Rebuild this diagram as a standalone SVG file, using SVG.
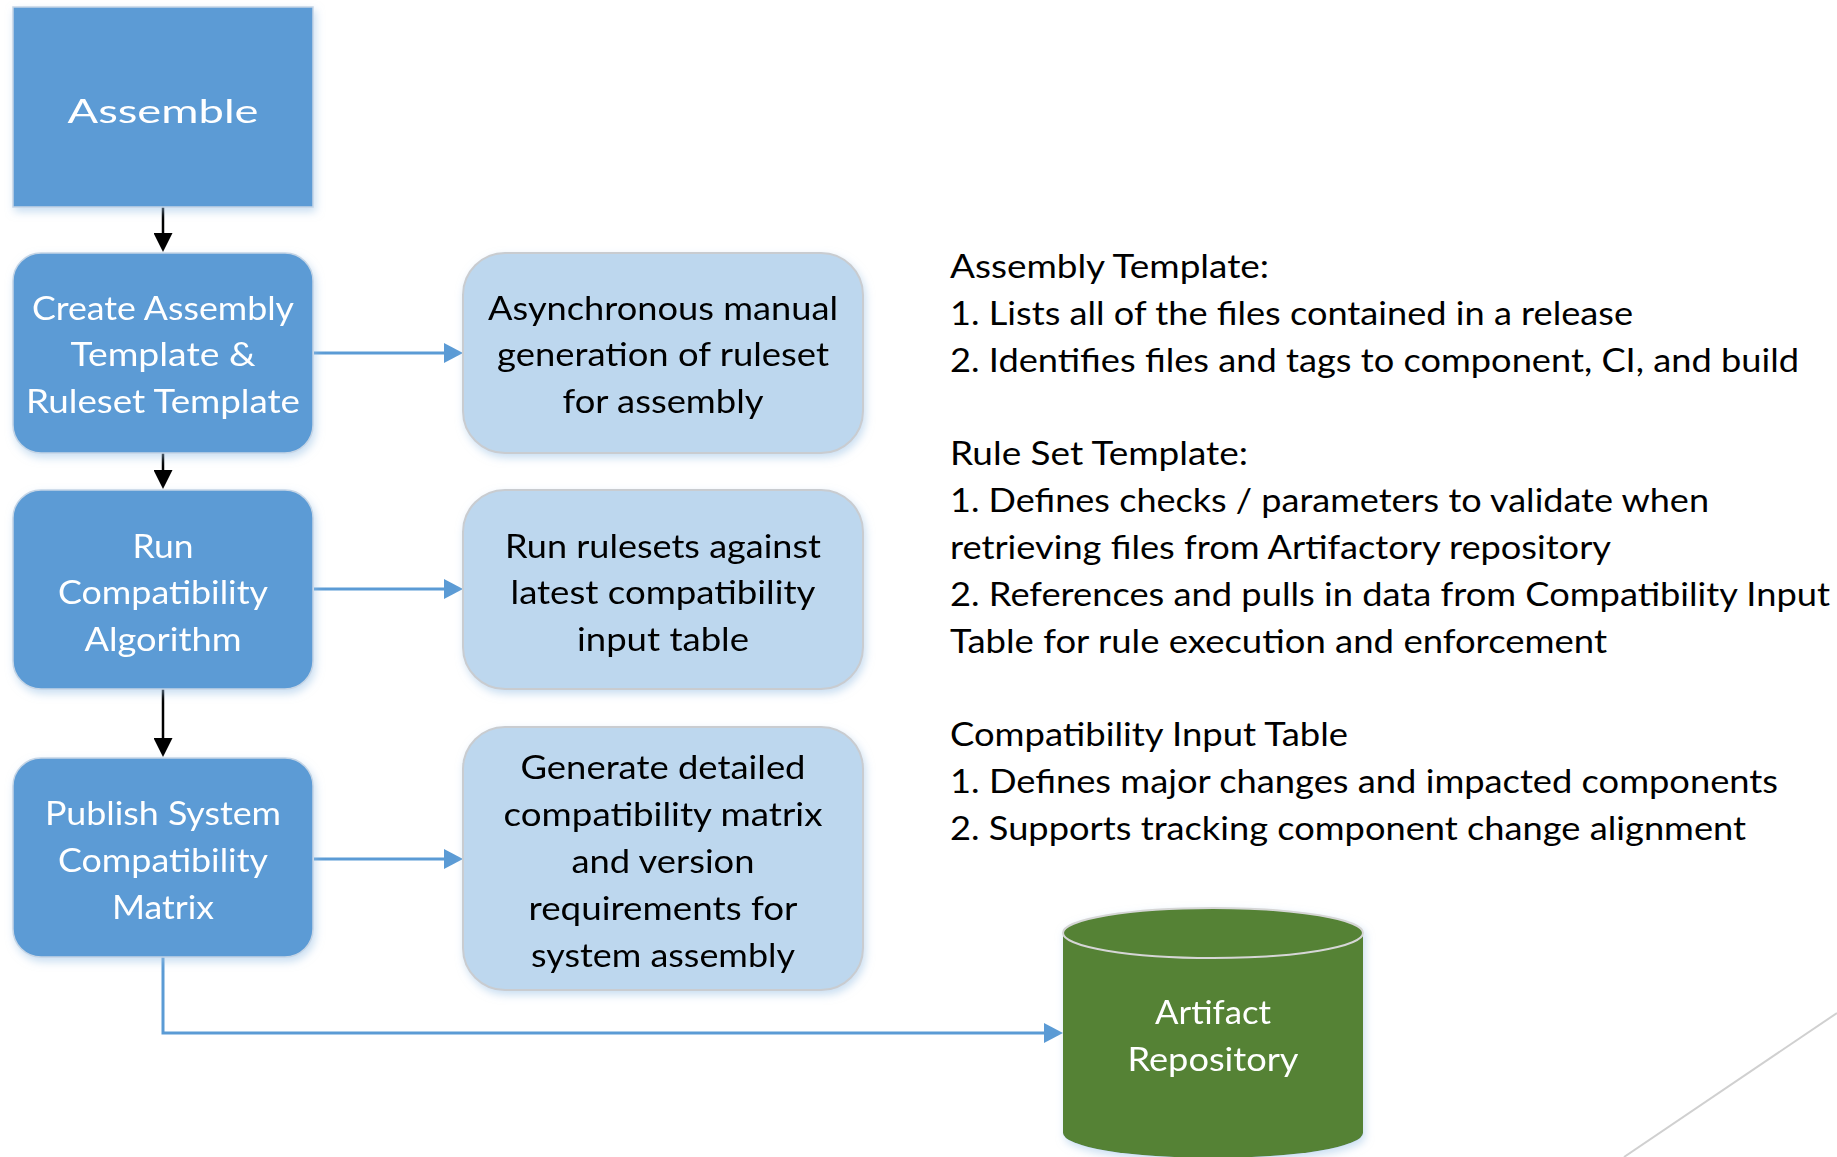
<svg xmlns="http://www.w3.org/2000/svg" width="1837" height="1157" viewBox="0 0 1837 1157">
  <style>
    .step { fill: #5b9bd5; stroke: #c5d5e6; stroke-width: 1.5; }
    .note { fill: #bdd7ee; stroke: #c9ccd0; stroke-width: 2; }
    .t { font-family: Lato, "Liberation Sans", sans-serif; font-size: 33px; text-anchor: middle; }
    .w { fill: #ffffff; }
    .k { fill: #000000; }
    .side { font-family: Lato, "Liberation Sans", sans-serif; font-size: 33px; fill: #000000; }
    .flow { fill: none; stroke: #000000; stroke-width: 2.5; }
    .link { fill: none; stroke: #5b9bd5; stroke-width: 3; }
  </style>
  <defs>
    <filter id="glow" x="-10%" y="-10%" width="120%" height="125%">
      <feGaussianBlur in="SourceAlpha" stdDeviation="4"/>
      <feOffset dx="2" dy="4" result="b"/>
      <feFlood flood-color="#9dc3e6" flood-opacity="0.55"/>
      <feComposite in2="b" operator="in"/>
      <feMerge><feMergeNode/><feMergeNode in="SourceGraphic"/></feMerge>
    </filter>
    <marker id="headK" markerUnits="userSpaceOnUse" markerWidth="19" markerHeight="19" viewBox="0 0 19 19" refX="4" refY="9.5" orient="auto">
      <path d="M0,0 L19,9.5 L0,19 Z" fill="#000000"/>
    </marker>
    <marker id="headB" markerUnits="userSpaceOnUse" markerWidth="19" markerHeight="20" viewBox="0 0 19 20" refX="4" refY="10" orient="auto">
      <path d="M0,0 L19,10 L0,20 Z" fill="#5b9bd5"/>
    </marker>
  </defs>

  <rect width="1837" height="1157" fill="#ffffff"/>

  <!-- corner accent line -->
  <line x1="1624" y1="1157" x2="1837" y2="1013" stroke="#d0d0d0" stroke-width="2"/>

  <!-- connectors -->
  <g id="connectors">
    <path class="flow" d="M163,207 V237" marker-end="url(#headK)"/>
    <path class="flow" d="M163,453 V474" marker-end="url(#headK)"/>
    <path class="flow" d="M163,689 V742" marker-end="url(#headK)"/>
    <path class="link" d="M314,353 H448" marker-end="url(#headB)"/>
    <path class="link" d="M314,589 H448" marker-end="url(#headB)"/>
    <path class="link" d="M314,859 H448" marker-end="url(#headB)"/>
    <path class="link" d="M163,957 V1033 H1048" marker-end="url(#headB)"/>
  </g>

  <!-- process steps -->
  <g id="assemble" filter="url(#glow)">
    <rect class="step" x="13" y="7" width="300" height="200"/>
    <text class="t w" x="163" y="123" font-size="44" textLength="191" lengthAdjust="spacingAndGlyphs">Assemble</text>
  </g>

  <g id="create-templates" filter="url(#glow)">
    <rect class="step" x="13" y="253" width="300" height="200" rx="28"/>
    <text class="t w" x="163" y="320" textLength="262" lengthAdjust="spacingAndGlyphs">Create Assembly</text>
    <text class="t w" x="163" y="366" textLength="185" lengthAdjust="spacingAndGlyphs">Template &amp;</text>
    <text class="t w" x="163" y="413" textLength="274" lengthAdjust="spacingAndGlyphs">Ruleset Template</text>
  </g>

  <g id="run-algorithm" filter="url(#glow)">
    <rect class="step" x="13" y="490" width="300" height="199" rx="28"/>
    <text class="t w" x="163" y="558" textLength="61" lengthAdjust="spacingAndGlyphs">Run</text>
    <text class="t w" x="163" y="604" textLength="210" lengthAdjust="spacingAndGlyphs">Compatibility</text>
    <text class="t w" x="163" y="651" textLength="157" lengthAdjust="spacingAndGlyphs">Algorithm</text>
  </g>

  <g id="publish-matrix" filter="url(#glow)">
    <rect class="step" x="13" y="758" width="300" height="199" rx="28"/>
    <text class="t w" x="163" y="825" textLength="236" lengthAdjust="spacingAndGlyphs">Publish System</text>
    <text class="t w" x="163" y="872" textLength="210" lengthAdjust="spacingAndGlyphs">Compatibility</text>
    <text class="t w" x="163" y="919" textLength="102" lengthAdjust="spacingAndGlyphs">Matrix</text>
  </g>

  <!-- side notes -->
  <g id="note-ruleset" filter="url(#glow)">
    <rect class="note" x="463" y="253" width="400" height="200" rx="42"/>
    <text class="t k" x="663" y="320" textLength="350" lengthAdjust="spacingAndGlyphs">Asynchronous manual</text>
    <text class="t k" x="663" y="366" textLength="332" lengthAdjust="spacingAndGlyphs">generation of ruleset</text>
    <text class="t k" x="663" y="413" textLength="201" lengthAdjust="spacingAndGlyphs">for assembly</text>
  </g>

  <g id="note-run" filter="url(#glow)">
    <rect class="note" x="463" y="490" width="400" height="199" rx="42"/>
    <text class="t k" x="663" y="558" textLength="316" lengthAdjust="spacingAndGlyphs">Run rulesets against</text>
    <text class="t k" x="663" y="604" textLength="305" lengthAdjust="spacingAndGlyphs">latest compatibility</text>
    <text class="t k" x="663" y="651" textLength="172" lengthAdjust="spacingAndGlyphs">input table</text>
  </g>

  <g id="note-matrix" filter="url(#glow)">
    <rect class="note" x="463" y="727" width="400" height="263" rx="42"/>
    <text class="t k" x="663" y="779" textLength="285" lengthAdjust="spacingAndGlyphs">Generate detailed</text>
    <text class="t k" x="663" y="826" textLength="319" lengthAdjust="spacingAndGlyphs">compatibility matrix</text>
    <text class="t k" x="663" y="873" textLength="183" lengthAdjust="spacingAndGlyphs">and version</text>
    <text class="t k" x="663" y="920" textLength="269" lengthAdjust="spacingAndGlyphs">requirements for</text>
    <text class="t k" x="663" y="967" textLength="264" lengthAdjust="spacingAndGlyphs">system assembly</text>
  </g>

  <!-- repository -->
  <g id="artifact-repository" filter="url(#glow)">
    <path d="M1063,933 V1133 A150,25 0 0 0 1363,1133 V933 A150,25 0 0 0 1063,933 Z" fill="#548235"/>
    <ellipse cx="1213" cy="933" rx="150" ry="25" fill="none" stroke="#d6d6d6" stroke-width="2"/>
    <text class="t w" x="1213" y="1024" textLength="116" lengthAdjust="spacingAndGlyphs">Artifact</text>
    <text class="t w" x="1213" y="1071" textLength="171" lengthAdjust="spacingAndGlyphs">Repository</text>
  </g>

  <!-- definitions text -->
  <g id="definitions">
    <text class="side" x="950" y="278" textLength="319" lengthAdjust="spacingAndGlyphs">Assembly Template:</text>
    <text class="side" x="950" y="325" textLength="683" lengthAdjust="spacingAndGlyphs">1. Lists all of the files contained in a release</text>
    <text class="side" x="950" y="372" textLength="849" lengthAdjust="spacingAndGlyphs">2. Identifies files and tags to component, CI, and build</text>
    <text class="side" x="950" y="465" textLength="298" lengthAdjust="spacingAndGlyphs">Rule Set Template:</text>
    <text class="side" x="950" y="512" textLength="759" lengthAdjust="spacingAndGlyphs">1. Defines checks / parameters to validate when</text>
    <text class="side" x="950" y="559" textLength="661" lengthAdjust="spacingAndGlyphs">retrieving files from Artifactory repository</text>
    <text class="side" x="950" y="606" textLength="880" lengthAdjust="spacingAndGlyphs">2. References and pulls in data from Compatibility Input</text>
    <text class="side" x="950" y="653" textLength="657" lengthAdjust="spacingAndGlyphs">Table for rule execution and enforcement</text>
    <text class="side" x="950" y="746" textLength="398" lengthAdjust="spacingAndGlyphs">Compatibility Input Table</text>
    <text class="side" x="950" y="793" textLength="828" lengthAdjust="spacingAndGlyphs">1. Defines major changes and impacted components</text>
    <text class="side" x="950" y="840" textLength="796" lengthAdjust="spacingAndGlyphs">2. Supports tracking component change alignment</text>
  </g>
</svg>
